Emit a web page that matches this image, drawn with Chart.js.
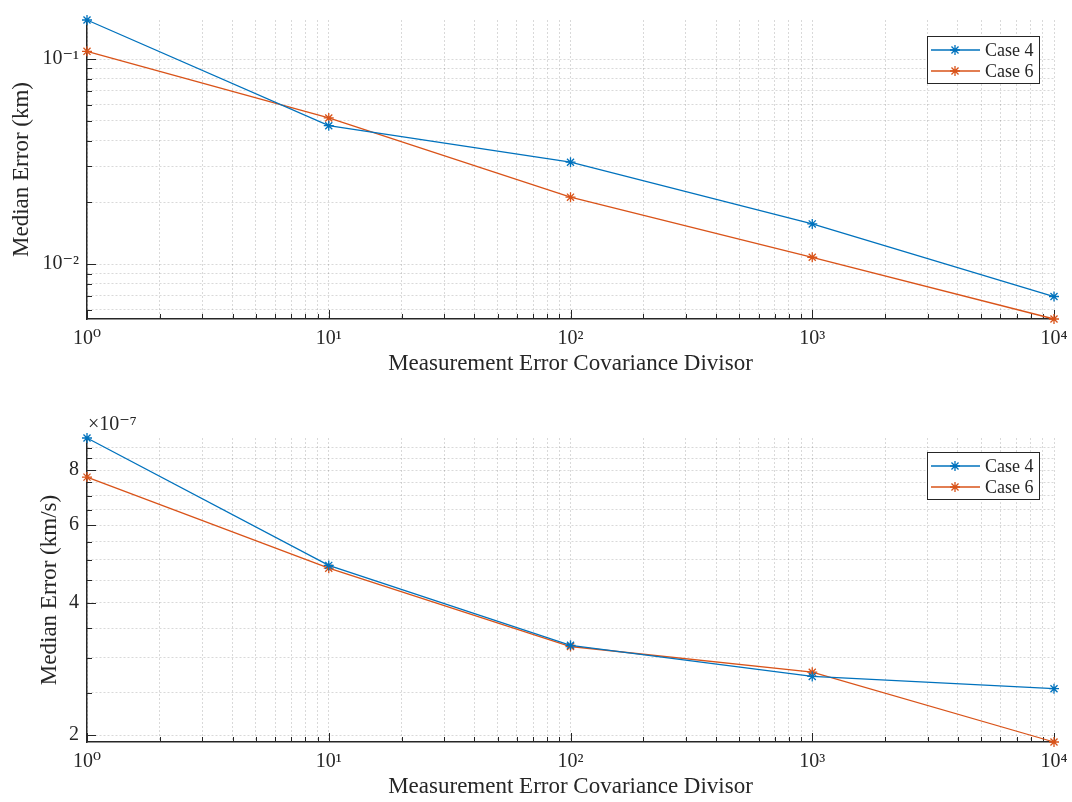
<!DOCTYPE html>
<html>
<head>
<meta charset="utf-8">
<script src="https://cdn.jsdelivr.net/npm/chart.js@4.4.0/dist/chart.umd.min.js"></script>
<style>
  body { margin: 0; background: #fff; }
  canvas { position: absolute; left: 0; }
  #pos-chart { top: 0; }
  #vel-chart { top: 400px; }
</style>
</head>
<body>
<canvas id="pos-chart" width="1072" height="400"></canvas>
<canvas id="vel-chart" width="1072" height="402"></canvas>
<script>
// measurement error covariance divisor
const divisors = [1, 10, 100, 1000, 10000];

// median position error (km)
const posCase4 = [0.155, 0.0473, 0.0314, 0.0157, 0.00695];
const posCase6 = [0.109, 0.0516, 0.0212, 0.0108, 0.0054];

// median velocity error (km/s)
const velCase4 = [9.46e-7, 4.86e-7, 3.20e-7, 2.72e-7, 2.55e-7];
const velCase6 = [7.71e-7, 4.79e-7, 3.18e-7, 2.78e-7, 1.93e-7];

// tick positions
const decadeSteps = [1, 2, 3, 4, 5, 6, 7, 8, 9];
const xDecades = [1, 10, 100, 1000];
const xTicks = xDecades.flatMap(d => decadeSteps.map(m => m * d)).concat([10000]);
const xLabels = { 1: '10⁰', 10: '10¹', 100: '10²', 1000: '10³', 10000: '10⁴' };

const posTicks = [0.006, 0.007, 0.008, 0.009, 0.01, 0.02, 0.03, 0.04, 0.05, 0.06, 0.07, 0.08, 0.09, 0.1];
const posLabels = { 0.01: '10⁻²', 0.1: '10⁻¹' };

const velTickUnits = [2, 2.5, 3, 3.5, 4, 4.5, 5, 5.5, 6, 6.5, 7, 7.5, 8, 8.5, 9];
const velLabelUnits = [2, 4, 6, 8];
const velScale = 1e-7;

const AXIS = '#262626';
const GRID = 'rgba(0,0,0,0.15)';
const BLUE = '#0072BD';
const ORANGE = '#D95319';
const SERIF = "'Liberation Serif', 'DejaVu Serif', serif";

// MATLAB-style inward tick marks
const innerTicks = {
  id: 'innerTicks',
  beforeDatasetsDraw(chart) {
    const { ctx, chartArea: a } = chart;
    const xs = chart.scales.x, ys = chart.scales.y;
    ctx.save();
    ctx.strokeStyle = AXIS;
    ctx.lineWidth = 1;
    xs.ticks.forEach(t => {
      const px = Math.round(xs.getPixelForValue(t.value)) + 0.5;
      const len = t.label ? 9 : 5;
      ctx.beginPath();
      ctx.moveTo(px, a.bottom);
      ctx.lineTo(px, a.bottom - len);
      ctx.stroke();
    });
    ys.ticks.forEach(t => {
      const py = Math.round(ys.getPixelForValue(t.value)) + 0.5;
      const len = t.label ? 9 : 5;
      ctx.beginPath();
      ctx.moveTo(a.left, py);
      ctx.lineTo(a.left + len, py);
      ctx.stroke();
    });
    ctx.restore();
  }
};

function drawStar(ctx, x, y, r) {
  ctx.beginPath();
  ctx.moveTo(x, y - r); ctx.lineTo(x, y + r);
  ctx.moveTo(x - r, y); ctx.lineTo(x + r, y);
  const d = r * Math.SQRT1_2;
  ctx.moveTo(x - d, y - d); ctx.lineTo(x + d, y + d);
  ctx.moveTo(x - d, y + d); ctx.lineTo(x + d, y - d);
  ctx.stroke();
}

// boxed legend inside the top-right corner, plus optional axis exponent
const boxLegend = {
  id: 'boxLegend',
  afterDraw(chart, args, opts) {
    const { ctx, chartArea: a } = chart;
    ctx.save();
    if (opts.exponent) {
      ctx.fillStyle = AXIS;
      ctx.font = '20px ' + SERIF;
      ctx.textAlign = 'left';
      ctx.textBaseline = 'middle';
      ctx.fillText(opts.exponent, a.left + 1, a.top - 13);
    }
    const w = 112, h = 47;
    const x0 = a.right - 15 - w, y0 = a.top + opts.top;
    ctx.fillStyle = '#fff';
    ctx.fillRect(x0, y0, w, h);
    ctx.strokeStyle = AXIS;
    ctx.lineWidth = 1;
    ctx.strokeRect(x0 + 0.5, y0 + 0.5, w, h);
    ctx.font = '18px ' + SERIF;
    ctx.textAlign = 'left';
    ctx.textBaseline = 'middle';
    chart.data.datasets.forEach((ds, i) => {
      const y = y0 + 14 + i * 21;
      ctx.strokeStyle = ds.borderColor;
      ctx.lineWidth = 1.3;
      ctx.beginPath();
      ctx.moveTo(x0 + 4, y);
      ctx.lineTo(x0 + 53, y);
      ctx.stroke();
      drawStar(ctx, x0 + 28, y, 5);
      ctx.fillStyle = AXIS;
      ctx.fillText(ds.label, x0 + 58, y + 1);
    });
    ctx.restore();
  }
};

function series(label, color, ys) {
  return {
    label,
    data: divisors.map((x, i) => ({ x, y: ys[i] })),
    borderColor: color,
    backgroundColor: color,
    borderWidth: 1.3,
    pointStyle: 'star',
    pointRadius: 5,
    pointBorderWidth: 1.3,
    clip: false,
  };
}

function makeChart(id, sets, y, layout) {
  const allY = sets.flatMap(s => s.data.map(p => p.y));
  return new Chart(document.getElementById(id), {
    type: 'line',
    data: { datasets: sets },
    plugins: [innerTicks, boxLegend],
    options: {
      responsive: false,
      animation: false,
      layout: { padding: { top: layout.top, right: 18, left: 0, bottom: 0 } },
      plugins: {
        legend: { display: false },
        tooltip: { enabled: false },
        boxLegend: { top: layout.legendTop, exponent: y.exponent },
      },
      scales: {
        x: {
          type: 'logarithmic',
          min: 1,
          max: 10000,
          afterBuildTicks: s => { s.ticks = xTicks.map(v => ({ value: v })); },
          afterFit: s => {
            s.height = layout.xHeight;
            s.paddingLeft = 0;
            s.paddingRight = 0;
          },
          ticks: {
            autoSkip: false,
            maxRotation: 0,
            padding: 8,
            color: AXIS,
            font: { family: SERIF, size: 20 },
            callback: v => xLabels[v] || '',
          },
          grid: { color: GRID, lineWidth: 1, drawTicks: false },
          border: { color: AXIS, width: 1.5, dash: [2, 2] },
          title: {
            display: true,
            text: 'Measurement Error Covariance Divisor',
            color: AXIS,
            font: { family: SERIF, size: 23 },
            padding: { top: 0, bottom: layout.xTitlePad },
          },
        },
        y: {
          type: 'logarithmic',
          min: Math.min(...allY),
          max: Math.max(...allY),
          afterBuildTicks: s => { s.ticks = y.ticks.map(v => ({ value: v })); },
          afterFit: s => { s.width = 87; },
          ticks: {
            autoSkip: false,
            padding: 8,
            color: AXIS,
            font: { family: SERIF, size: 20 },
            callback: y.label,
          },
          grid: { color: GRID, lineWidth: 1, drawTicks: false },
          border: { color: AXIS, width: 1.5, dash: [2, 2] },
          title: {
            display: true,
            text: y.title,
            color: AXIS,
            font: { family: SERIF, size: 23 },
            padding: { top: y.titlePad, bottom: 0 },
          },
        },
      },
    },
  });
}

makeChart('pos-chart',
  [series('Case 4', BLUE, posCase4), series('Case 6', ORANGE, posCase6)],
  {
    ticks: posTicks,
    label: v => posLabels[v] || '',
    title: 'Median Error (km)',
    titlePad: 8,
  },
  { top: 12, xHeight: 81, xTitlePad: 22, legendTop: 16 });

makeChart('vel-chart',
  [series('Case 4', BLUE, velCase4), series('Case 6', ORANGE, velCase6)],
  {
    ticks: velTickUnits.map(u => u * velScale),
    label: v => {
      const u = Math.round(v / velScale * 2) / 2;
      return velLabelUnits.includes(u) ? String(u) : '';
    },
    title: 'Median Error (km/s)',
    titlePad: 36,
    exponent: '×10⁻⁷',
  },
  { top: 38, xHeight: 60, xTitlePad: 1, legendTop: 14 });
</script>
</body>
</html>
